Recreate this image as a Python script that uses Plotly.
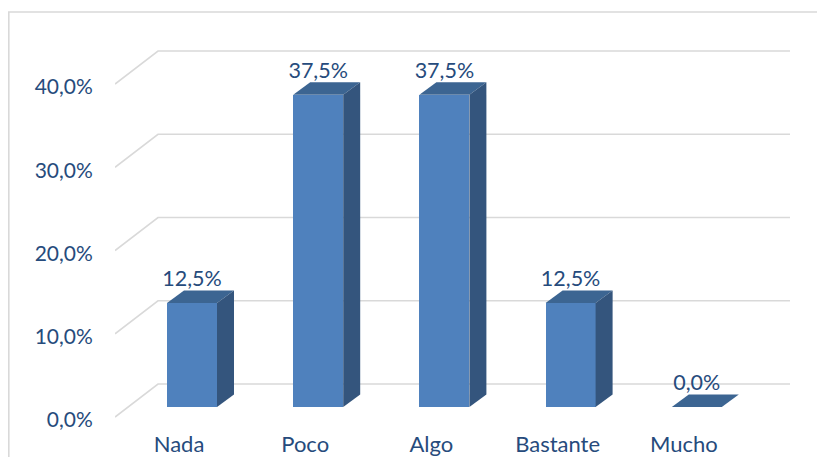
import plotly.graph_objects as go

categories = ["Nada", "Poco", "Algo", "Bastante", "Mucho"]
values = [12.5, 37.5, 37.5, 12.5, 0.0]
y_ticks = [0, 10, 20, 30, 40]
y_tick_labels = ["0,0%", "10,0%", "20,0%", "30,0%", "40,0%"]
value_labels = ["12,5%", "37,5%", "37,5%", "12,5%", "0,0%"]

PAGE = 8  # the page's own body margin
W, H = 825 - PAGE, 457 - PAGE
ML, MB = 115 - PAGE, 27
PX_PER_CAT = 126.2
PX_PER_PCT = 8.325
FONT = "Lato"
TEXT = "#264B7C"
FRONT, TOP, SIDE = "#4F81BD", "#3C6592", "#34557D"
GRID = "#D9D9D9"

plot_w, plot_h = W - ML, H - MB
x0 = -(179 - 115) / PX_PER_CAT
x1 = x0 + plot_w / PX_PER_CAT
y0 = -(430 - 417) / PX_PER_PCT
y1 = y0 + plot_h / PX_PER_PCT

wall_dx, wall_dy = 43 / PX_PER_CAT, 33 / PX_PER_PCT
grid_end = (790 - 179) / PX_PER_CAT
bar_shift = 13 / PX_PER_CAT
bar_w = 50 / PX_PER_CAT
base = 10 / PX_PER_PCT
dx, dy = 17 / PX_PER_CAT, 12.5 / PX_PER_PCT
label_gap = 22.5 / PX_PER_PCT

fig = go.Figure()
xs = [i + bar_shift for i in range(len(values))]

fig.add_trace(go.Bar(x=xs, y=values, base=base, width=bar_w,
                     marker=dict(color=FRONT, line_width=0), showlegend=False))

for x, v in zip(xs, values):
    l, r, t = x - bar_w / 2, x + bar_w / 2, v + base
    fig.add_trace(go.Scatter(
        x=[l, r, r + dx, l + dx, l], y=[t, t, t + dy, t + dy, t],
        mode="lines", fill="toself", fillcolor=TOP, line=dict(width=0),
        hoverinfo="skip", showlegend=False))
    if v > 0:
        fig.add_trace(go.Scatter(
            x=[r, r + dx, r + dx, r, r], y=[base, base + dy, t + dy, t, base],
            mode="lines", fill="toself", fillcolor=SIDE, line=dict(width=0),
            hoverinfo="skip", showlegend=False))

fig.add_trace(go.Scatter(
    x=xs, y=[v + base + label_gap for v in values], text=value_labels,
    mode="text", textposition="middle center",
    textfont=dict(family=FONT, size=21.5, color=TEXT),
    hoverinfo="skip", showlegend=False))

shapes = []
for t in y_ticks:
    path = f"M {x0} {t} L {x0 + wall_dx} {t + wall_dy} L {grid_end} {t + wall_dy}"
    shapes.append(dict(type="path", path=path, xref="x", yref="y", layer="below",
                       line=dict(color=GRID, width=1.6)))
# chart frame: open to the right and the bottom of the picture
shapes.append(dict(type="rect", xref="paper", yref="paper", layer="below",
                   x0=(0.8 - ML) / plot_w, x1=1.1,
                   y0=-0.2, y1=1 - 4 / plot_h,
                   line=dict(color=GRID, width=1.6)))

fig.update_layout(
    width=W, height=H, autosize=False,
    margin=dict(l=ML, r=0, t=0, b=MB, pad=0),
    paper_bgcolor="white", plot_bgcolor="rgba(0,0,0,0)",
    font=dict(family=FONT, size=21, color=TEXT),
    shapes=shapes, showlegend=False, bargap=0,
    xaxis=dict(range=[x0, x1], tickmode="array", tickvals=list(range(len(categories))),
               ticktext=categories, showgrid=False, zeroline=False, showline=False,
               automargin=False, ticks="", ticklabelstandoff=-1,
               tickfont=dict(family=FONT, size=22, color=TEXT)),
    yaxis=dict(range=[y0, y1], tickmode="array", tickvals=y_ticks,
               ticktext=y_tick_labels, showgrid=False, zeroline=False, showline=False,
               automargin=False, ticks="outside", ticklen=17, tickcolor="rgba(0,0,0,0)",
               ticklabelshift=3,
               tickfont=dict(family=FONT, size=21, color=TEXT)),
)

fig.write_html("out.html")
